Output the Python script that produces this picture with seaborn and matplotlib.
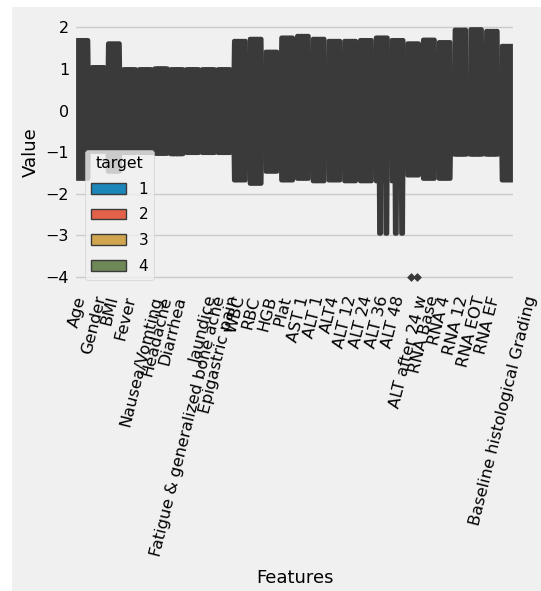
import matplotlib
matplotlib.use("Agg")
import matplotlib.pyplot as plt
from matplotlib.patches import Rectangle
from matplotlib.transforms import ScaledTranslation
import pandas as pd
import seaborn as sns

# Standardized clinical features (x categories)
features = [
    "Age", "Gender", "BMI", "Fever", "Nausea/Vomting", "Headache", "Diarrhea",
    "Fatigue & generalized bone ache", "Jaundice", "Epigastric pain",
    "WBC", "RBC", "HGB", "Plat", "AST 1", "ALT 1", "ALT4", "ALT 12", "ALT 24",
    "ALT 36", "ALT 48", "ALT after 24 w", "RNA Base", "RNA 4", "RNA 12",
    "RNA EOT", "RNA EF", "Baseline histological Grading",
]
targets = ["1", "2", "3", "4"]

# Summary values of each standardized feature
feat_min = [-1.62, -0.97, -1.45, -1.00, -1.00, -1.02, -1.03, -1.00, -1.00, -1.00,
            -1.66, -1.74, -1.45, -1.66, -1.62, -1.68, -1.66, -1.68, -1.68,
            -1.68, -1.68, -1.54, -1.62, -1.62, -1.04, -1.04, -1.04, -1.66]
feat_low = [-0.50, -0.97, -0.50, -1.00, -1.00, -1.02, -1.03, -1.00, -1.00, -1.00,
            -0.50, -0.50, -0.45, -0.50, -0.50, -0.50, -0.50, -0.50, -0.50,
            -0.50, -0.50, -0.50, -0.50, -0.50, -1.04, -1.04, -1.04, -0.50]
feat_mid = [0.00, 0.00, 0.00, 0.00, 0.00, 0.00, 0.00, 0.00, 0.00, 0.00,
            0.00, 0.00, 0.00, 0.00, 0.00, 0.00, 0.00, 0.00, 0.00,
            0.00, 0.00, 0.00, 0.00, 0.00, -0.50, -0.50, -0.50, 0.00]
feat_high = [0.50, 1.05, 0.50, 1.00, 1.00, 1.02, 1.00, 1.00, 1.00, 1.00,
             0.50, 0.50, 0.45, 0.50, 0.50, 0.50, 0.50, 0.50, 0.50,
             0.50, 0.50, 0.50, 0.50, 0.50, 0.60, 0.60, 0.60, 0.50]
feat_max = [1.70, 1.05, 1.62, 1.00, 1.00, 1.02, 1.00, 1.00, 1.00, 1.00,
            1.68, 1.73, 1.42, 1.76, 1.80, 1.73, 1.68, 1.68, 1.70,
            1.76, 1.70, 1.62, 1.71, 1.65, 1.95, 1.96, 1.92, 1.56]

# Groups whose lower tail reaches further down
deep_features = ["ALT 36", "ALT 48"]
deep_targets = ["2", "4"]
deep_min = -2.94

# Isolated low values
outlier_features = ["ALT after 24 w", "ALT after 24 w"]
outlier_targets = ["2", "4"]
outlier_values = [-4.0, -4.0]

palette = ["#008fd5", "#fc4f30", "#e5ae38", "#6d904f"]
line_dark = "#3a3a3a"

rows = []
for i, feat in enumerate(features):
    for t in targets:
        vals = [feat_min[i], feat_low[i], feat_mid[i], feat_high[i], feat_max[i]]
        if feat in deep_features and t in deep_targets:
            vals[0] = deep_min
        for v in vals:
            rows.append((feat, t, v))
df = pd.DataFrame(rows, columns=["Features", "target", "Value"])
out_df = pd.DataFrame({"Features": outlier_features,
                       "target": outlier_targets,
                       "Value": outlier_values})

plt.style.use("fivethirtyeight")
W, H = 541, 591
fig = plt.figure(figsize=(W / 100, H / 100), dpi=100, facecolor="white")
fig.patches.append(Rectangle((12 / W, 0), 1, 1 - 7 / H, transform=fig.transFigure,
                             facecolor="#f0f0f0", edgecolor="none", zorder=-10))
ax = fig.add_axes([74 / W, (H - 289.5) / H, 441 / W, 273.8 / H])

sns.violinplot(data=df, x="Features", y="Value", hue="target",
               order=features, hue_order=targets, palette=palette,
               cut=0, density_norm="width", inner=None,
               linewidth=3.4, linecolor=line_dark, ax=ax)
sns.stripplot(data=out_df, x="Features", y="Value", hue="target",
              order=features, hue_order=targets,
              palette=[line_dark] * 4, dodge=True, jitter=False,
              marker="D", size=4.5, linewidth=0, legend=False, ax=ax)

ax.set_ylim(-4.3, 2.28)
ax.set_xlabel("Features", fontsize=13, labelpad=8)
ax.set_ylabel("Value", fontsize=13)
ax.tick_params(axis="x", labelsize=11.7, labelrotation=76)
ax.tick_params(axis="y", labelsize=11.5)
shift = ScaledTranslation(-4 / 100, 0, fig.dpi_scale_trans)
for lbl in ax.get_xticklabels():
    lbl.set_transform(lbl.get_transform() + shift)

sns.move_legend(ax, "lower left", bbox_to_anchor=(0.025, 0.035), borderaxespad=0,
                title="target", fontsize=11, title_fontsize=11.3,
                handlelength=2.3, labelspacing=0.7, framealpha=0.8)
for h in ax.get_legend().legend_handles:
    h.set_linewidth(1.0)
    h.set_edgecolor(line_dark)

fig.savefig("out.png", dpi=100, facecolor="white")
